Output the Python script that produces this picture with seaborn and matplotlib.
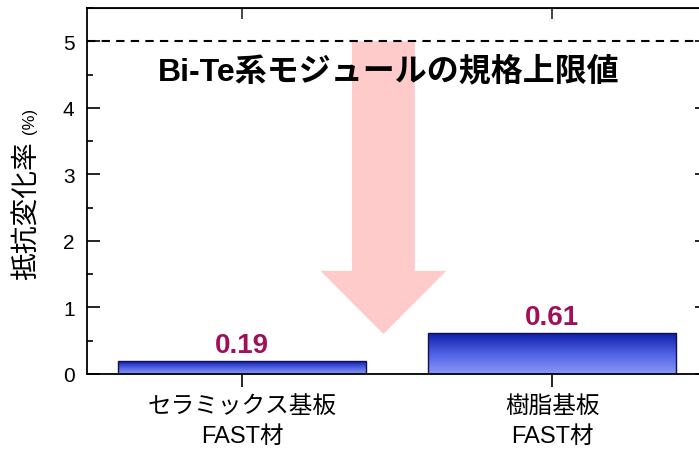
import numpy as np
import pandas as pd
import matplotlib
matplotlib.use('Agg')
import matplotlib.pyplot as plt
import seaborn as sns
from matplotlib.ticker import MultipleLocator
from matplotlib.colors import LinearSegmentedColormap

# data
categories = ['セラミックス基板\nFAST材', '樹脂基板\nFAST材']
change_rate = [0.19, 0.61]
value_labels = ['0.19', '0.61']
spec_limit = 5.0
limit_label = 'Bi-Te系モジュールの規格上限値'
y_ticks = [0, 1, 2, 3, 4, 5]

sns.set_style('ticks')
plt.rcParams['font.family'] = ['Liberation Sans', 'Noto Sans CJK JP', 'DejaVu Sans']
plt.rcParams['text.color'] = 'black'

df = pd.DataFrame({'sample': categories, 'rate': change_rate})

fig = plt.figure(figsize=(6.99, 4.52), dpi=100)
ax = fig.add_axes([0.1245, 0.1704, 0.887, 0.8097])

sns.barplot(data=df, x='sample', y='rate', width=0.8, ax=ax,
            color='#3040d0', edgecolor='#101050', linewidth=1, zorder=2)

# gradient fill inside the bars (light at bottom, dark blue at top)
grad = np.linspace(0, 1, 256).reshape(-1, 1)
cmap = LinearSegmentedColormap.from_list('bar', ['#8a98f8', '#5060e4', '#0e1ea8'])
for p in ax.patches:
    x0, y0 = p.get_x(), p.get_y()
    w, h = p.get_width(), p.get_height()
    im = ax.imshow(grad, cmap=cmap, origin='lower', aspect='auto',
                   extent=[x0, x0 + w, y0, y0 + h], zorder=1.8)
    im.set_clip_path(p)
    p.set_facecolor('none')

# big pink arrow
ax.arrow(0.456, spec_limit, 0, -4.4, width=0.203, head_width=0.406,
         head_length=0.95, length_includes_head=True, color='#ffcaca',
         lw=0, zorder=1)

ax.axhline(spec_limit, color='black', ls=(0, (4, 3)), lw=1.5, zorder=3)
ax.text(0.474, 4.55, limit_label, ha='center', va='center', color='black',
        fontsize=23, fontweight='bold', zorder=4)

for i, (v, lab) in enumerate(zip(change_rate, value_labels)):
    ax.text(i, v + 0.05, lab, ha='center', va='bottom', color='#a0105a',
            fontsize=20, fontweight='bold', zorder=4)

ax.set_xlim(-0.5, 1.5)
ax.set_ylim(0, 5.5)
ax.set_yticks(y_ticks)
ax.yaxis.set_minor_locator(MultipleLocator(0.5))
ax.set_xlabel('')
ax.set_ylabel('')

for s in ax.spines.values():
    s.set_linewidth(1.3)
    s.set_color('black')

ax.tick_params(axis='y', which='both', direction='in', left=True, right=True,
               labelsize=15, pad=9, width=1.2, colors='black')
ax.tick_params(axis='y', which='major', length=9)
ax.tick_params(axis='y', which='minor', length=4)
ax.tick_params(axis='x', direction='inout', length=18, width=1.2,
               labelsize=17, pad=6, colors='black')
for t in ax.get_xticklabels():
    t.set_linespacing(1.5)

top = ax.secondary_xaxis('top')
top.set_xticks([0, 1])
top.tick_params(direction='in', length=8, width=1.2, labeltop=False)

ax.text(-0.097, 0.448, '抵抗変化率', transform=ax.transAxes, rotation=90,
        ha='center', va='center', fontsize=20, color='black')
ax.text(-0.092, 0.695, '(%)', transform=ax.transAxes, rotation=90,
        ha='center', va='center', fontsize=12, color='black')

fig.savefig('out.png', dpi=100)
